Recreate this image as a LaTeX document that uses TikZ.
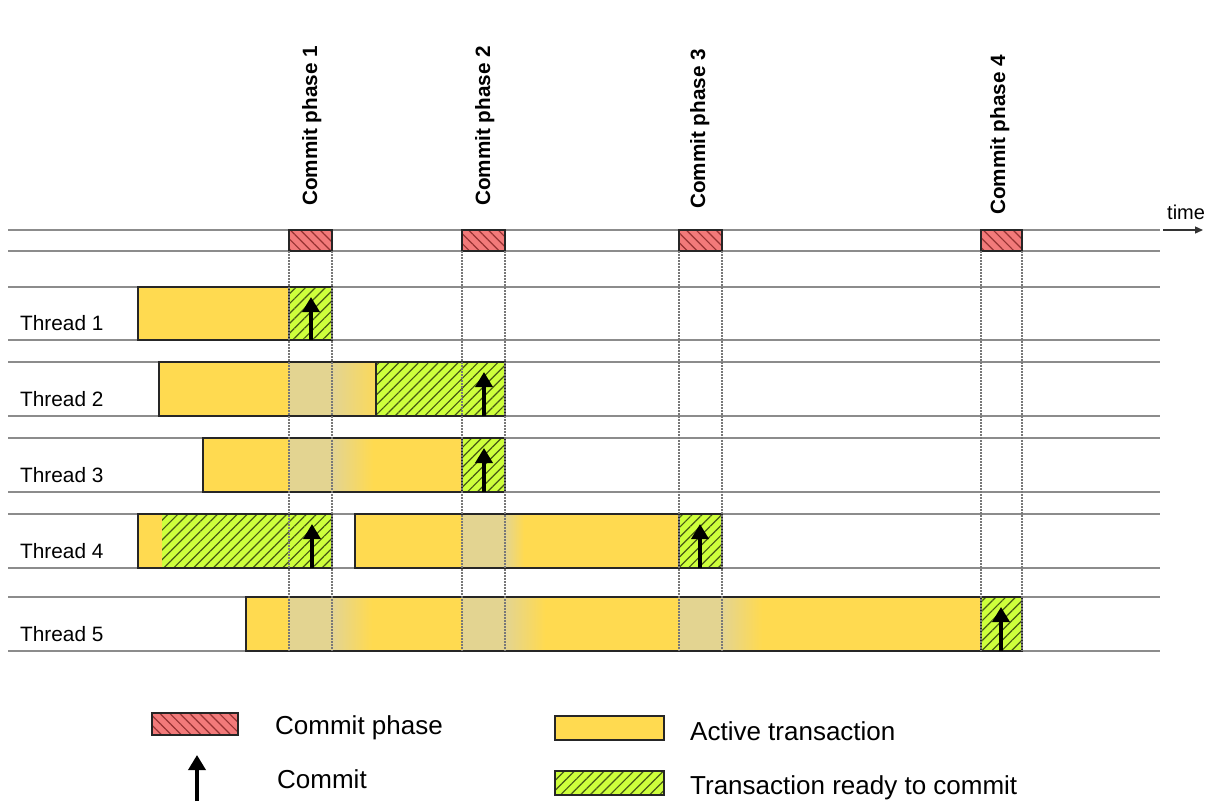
\documentclass[tikz,border=0pt]{standalone}
\usepackage{fontspec}
\setmainfont{Liberation Sans}
\usetikzlibrary{patterns.meta,arrows.meta}
\definecolor{ylw}{RGB}{255,218,80}
\definecolor{beige}{RGB}{227,212,145}
\definecolor{grn}{RGB}{206,255,60}
\definecolor{grnline}{RGB}{70,90,20}
\definecolor{rd}{RGB}{242,122,122}
\definecolor{rdline}{RGB}{150,50,50}
\definecolor{rowgray}{RGB}{140,140,140}
\definecolor{dotgray}{RGB}{120,120,120}
\begin{document}
\begin{tikzpicture}[x=1pt,y=-1pt,
  rowline/.style={draw=rowgray,line width=1.7pt},
  barframe/.style={draw=black!85,line width=1.6pt},
  activefill/.style={fill=ylw},
  beigefill/.style={fill=beige},
  readyfill/.style={fill=grn,postaction={pattern={Lines[angle=45,distance=7pt,line width=1.2pt]},pattern color=grnline}},
  phasefill/.style={fill=rd,postaction={pattern={Lines[angle=-45,distance=7pt,line width=1.2pt]},pattern color=rdline}},
  vdot/.style={draw=dotgray,line width=1.1pt,dash pattern=on 1.5pt off 1.5pt},
  commitarrow/.style={line width=3.5pt,-{Triangle[length=15pt,width=17pt]}},
  threadlbl/.style={anchor=base west,inner sep=0pt,font=\fontsize{20.8}{24}\selectfont},
  phaselbl/.style={anchor=base west,inner sep=0pt,rotate=90,font=\fontsize{20.7}{24}\selectfont\bfseries},
  legendlbl/.style={anchor=base west,inner sep=0pt,font=\fontsize{26}{30}\selectfont},
]
\useasboundingbox (0,0) rectangle (1210,801);

% ---------- row lines ----------
\foreach \y in {230,251,287,340,362,416,438,492,514,568,597,651}
  \draw[rowline] (8,\y) -- (1160,\y);

% time arrow
\coordinate (t0) at (1163,230);
\coordinate (t1) at (1203,230);
\draw[line width=1.3pt,draw=black!80,-{Triangle[length=8pt,width=7pt]}] (t0) -- (t1);
\node[anchor=base west,inner sep=0pt,font=\fontsize{20}{22}\selectfont] (time) at (1167,219) {time};

% ---------- commit phase boxes ----------
\foreach \a/\b in {289/332,462/505,679/722,981/1022}{
  \fill[phasefill] (\a,230) rectangle (\b,251);
  \draw[barframe] (\a,230) rectangle (\b,251);
}

% ---------- commit phase labels ----------
\node[phaselbl] (cp1) at (317,206) {Commit phase 1};
\node[phaselbl] (cp2) at (490,206) {Commit phase 2};
\node[phaselbl] (cp3) at (705,209) {Commit phase 3};
\node[phaselbl] (cp4) at (1005,215) {Commit phase 4};

% ---------- Thread 1 ----------
\fill[activefill] (138,287) rectangle (289,340);
\fill[readyfill] (289,287) rectangle (332,340);
\draw[barframe] (138,287) rectangle (289,340);
\draw[barframe] (289,287) rectangle (332,340);

% ---------- Thread 2 ----------
\fill[activefill] (159,362) rectangle (376,416);
\fill[beigefill] (289,362) rectangle (333,416);
\shade[left color=beige,right color=ylw!85!beige] (333,362) rectangle (376,416);
\fill[readyfill] (376,362) rectangle (505,416);
\draw[barframe] (159,362) rectangle (376,416);
\draw[barframe] (376,362) rectangle (505,416);

% ---------- Thread 3 ----------
\fill[activefill] (203,438) rectangle (462,492);
\fill[beigefill] (289,438) rectangle (333,492);
\shade[left color=beige,right color=ylw] (333,438) rectangle (373,492);
\fill[readyfill] (462,438) rectangle (505,492);
\draw[barframe] (203,438) rectangle (462,492);
\draw[barframe] (462,438) rectangle (505,492);

% ---------- Thread 4 ----------
\fill[activefill] (138,514) rectangle (162,568);
\fill[readyfill] (162,514) rectangle (332,568);
\draw[barframe] (138,514) rectangle (332,568);
\fill[activefill] (355,514) rectangle (679,568);
\fill[beigefill] (462,514) rectangle (505,568);
\shade[left color=beige,right color=ylw] (505,514) rectangle (524,568);
\fill[readyfill] (679,514) rectangle (722,568);
\draw[barframe] (355,514) rectangle (679,568);
\draw[barframe] (679,514) rectangle (722,568);

% ---------- Thread 5 ----------
\fill[activefill] (246,597) rectangle (981,651);
\fill[beigefill] (289,597) rectangle (333,651);
\shade[left color=beige,right color=ylw] (333,597) rectangle (372,651);
\fill[beigefill] (462,597) rectangle (505,651);
\shade[left color=beige,right color=ylw] (505,597) rectangle (545,651);
\fill[beigefill] (679,597) rectangle (722,651);
\shade[left color=beige,right color=ylw] (722,597) rectangle (762,651);
\fill[readyfill] (981,597) rectangle (1022,651);
\draw[barframe] (246,597) rectangle (981,651);
\draw[barframe] (981,597) rectangle (1022,651);

% ---------- dotted verticals ----------
\foreach \x in {289,332,462,505,679,722,981,1022}
  \draw[vdot] (\x,251) -- (\x,651);

% ---------- commit arrows ----------
\coordinate (a1s) at (311,340); \coordinate (a1e) at (311,297);
\coordinate (a2s) at (484,416); \coordinate (a2e) at (484,372);
\coordinate (a3s) at (484,492); \coordinate (a3e) at (484,448);
\coordinate (a4s) at (312,568); \coordinate (a4e) at (312,524);
\coordinate (a5s) at (700,568); \coordinate (a5e) at (700,524);
\coordinate (a6s) at (1001,651); \coordinate (a6e) at (1001,607);
\foreach \i in {1,...,6}
  \draw[commitarrow] (a\i s) -- (a\i e);

% ---------- thread labels ----------
\node[threadlbl] (th1) at (20,330) {Thread 1};
\node[threadlbl] (th2) at (20,406) {Thread 2};
\node[threadlbl] (th3) at (20,482) {Thread 3};
\node[threadlbl] (th4) at (20,558) {Thread 4};
\node[threadlbl] (th5) at (20,641) {Thread 5};

% ---------- legend ----------
\fill[phasefill] (152,713) rectangle (238,735);
\draw[barframe] (152,713) rectangle (238,735);
\node[legendlbl] (lg1) at (275,734) {Commit phase};
\coordinate (lgas) at (197,801);
\coordinate (lgae) at (197,755);
\draw[commitarrow] (lgas) -- (lgae);
\node[legendlbl] (lg2) at (277,788) {Commit};
\fill[activefill] (555,716) rectangle (664,740);
\draw[barframe] (555,716) rectangle (664,740);
\node[legendlbl] (lg3) at (690,740) {Active transaction};
\fill[readyfill] (555,771) rectangle (664,795);
\draw[barframe] (555,771) rectangle (664,795);
\node[legendlbl] (lg4) at (690,794) {Transaction ready to commit};
\end{tikzpicture}
\end{document}
